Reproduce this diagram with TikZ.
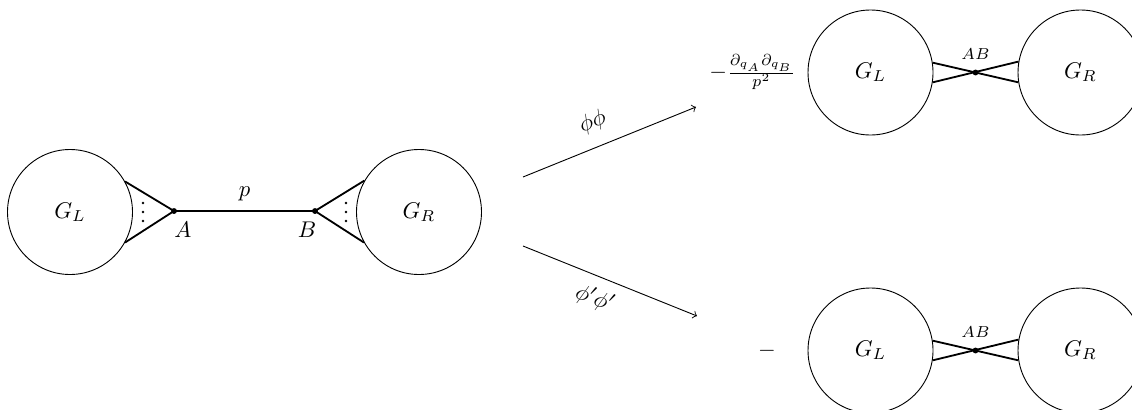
\documentclass[tikz,border=0pt]{standalone}
\begin{document}
\begin{tikzpicture}[x=0.44pt,y=-0.44pt,
  blob/.style={circle,draw,thin,minimum size=55pt,inner sep=0pt},
  vtx/.style={circle,fill,inner sep=0pt,minimum size=2.6pt},
  leg/.style={thick},
  flow/.style={thin,->},
  vlab/.style={font=\scriptsize},
  smalldot/.style={circle,fill,inner sep=0pt,minimum size=1.2pt}]
\useasboundingbox (0,0) rectangle (1132,409);
\clip (0,0) rectangle (1132,409);
% left diagram
\node[blob] (GL) at (70,212) {$G_L$};
\node[blob] (GR) at (419,212) {$G_R$};
\node[vtx] (A) at (174,211) {};
\node[vtx] (B) at (315,211) {};
\draw[leg] (A.center) -- node[above=0.5pt] (lp) {$p$} (B.center);
\draw[leg] (GL.29.4) -- (A.center) -- (GL.-29.4);
\draw[leg] (GR.150.6) -- (B.center) -- (GR.209.4);
\foreach \k/\yy in {1/203,2/212,3/221}{
  \node[smalldot] (dl\k) at (143,\yy) {};
  \node[smalldot] (dr\k) at (346,\yy) {};
}
\node (lA) at (183,230) {$A$};
\node (lB) at (307,230) {$B$};
% arrows
\coordinate (s1) at (523,177);
\coordinate (e1) at (696,107);
\coordinate (s2) at (523,246);
\coordinate (e2) at (697,316);
\draw[flow] (s1) -- node[pos=0.456,sloped,above=2.7pt] (l1) {$\phi\phi$} (e1);
\draw[flow] (s2) -- node[pos=0.46,sloped,below=1.4pt] (l2) {$\phi'\phi'$} (e2);
% top right
\node[anchor=east,inner sep=0pt] (fr) at (796,72) {$-\frac{\partial_{q_A}\partial_{q_B}}{p^2}$};
\node[blob] (GL2) at (870.5,72.5) {$G_L$};
\node[blob] (GR2) at (1080.5,72.5) {$G_R$};
\draw[leg] (GL2.9.7) -- (GR2.189.7);
\draw[leg] (GL2.-9.7) -- (GR2.170.3);
\node[vtx] (V1) at (975.5,72.5) {};
\node[vlab,above=2pt] (lab1) at (V1.center) {$AB$};
% bottom right
\node (mn) at (767,351) {$-$};
\node[blob] (GL3) at (870.5,350.5) {$G_L$};
\node[blob] (GR3) at (1080.5,350.5) {$G_R$};
\draw[leg] (GL3.9.7) -- (GR3.189.7);
\draw[leg] (GL3.-9.7) -- (GR3.170.3);
\node[vtx] (V2) at (975.5,350.5) {};
\node[vlab,above=2pt] (lab2) at (V2.center) {$AB$};
\end{tikzpicture}
\end{document}
